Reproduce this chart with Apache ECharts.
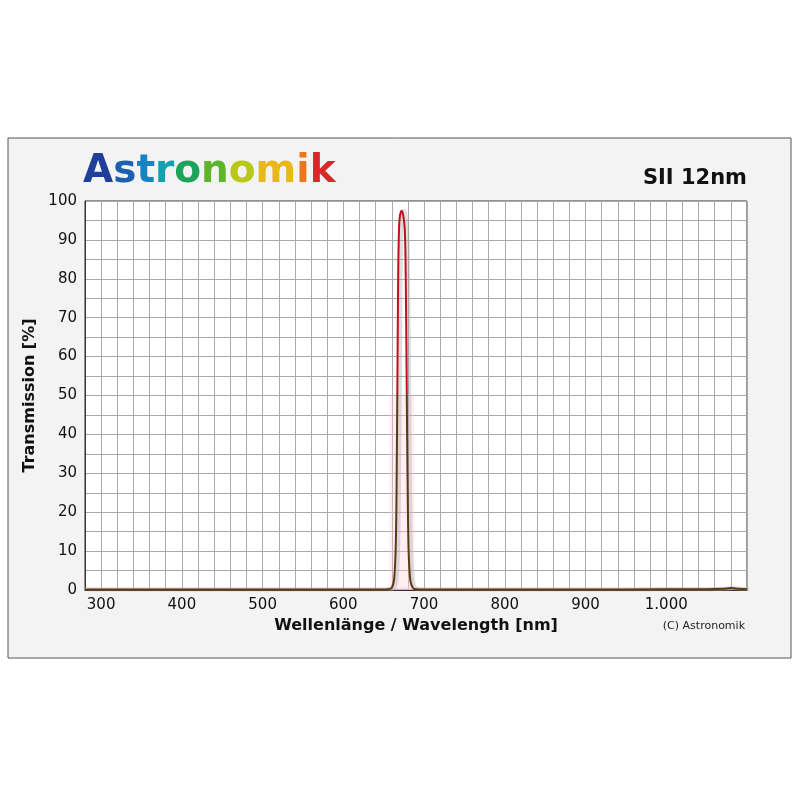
<!DOCTYPE html>
<html>
<head>
<meta charset="utf-8">
<script src="https://cdn.jsdelivr.net/npm/echarts@6/dist/echarts.min.js"></script>
<style>html,body{margin:0;background:#fff}#chart{width:800px;height:800px}</style>
</head>
<body>
<div id="chart"></div>
<script>
// wavelength [nm] and transmission [%]
const wavelengths = [280, 400, 600, 640, 655, 660, 663, 665, 666, 667, 668, 669, 670, 672, 674, 676, 677, 678, 679, 680, 681, 683, 686, 690, 720, 800, 900, 1000, 1050, 1070, 1080, 1090, 1100];
const transmission = [0.1, 0.1, 0.1, 0.1, 0.2, 0.6, 3, 12, 28, 55, 82, 93, 96, 97.5, 96.5, 93, 85, 65, 40, 20, 9, 2.5, 0.6, 0.2, 0.1, 0.1, 0.1, 0.2, 0.2, 0.3, 0.5, 0.3, 0.2];
// pink shaded band behind the peak and along the baseline
const bandPeak = [[657, 50], [688, 50]];
const bandBase = [[280, 0.8], [1100, 0.8]];
const logoLetters = ['A', 's', 't', 'r', 'o', 'n', 'o', 'm', 'i', 'k'];
const logoColors = ['#1f3f9a', '#1d5fb0', '#1584c4', '#14a0b0', '#1ea45a', '#5fb52a', '#b8c814', '#e8b818', '#e8781c', '#d8282a'];

const chart = echarts.init(document.getElementById('chart'));

const data = wavelengths.map((w, i) => [w, transmission[i]]);
const rich = {};
logoLetters.forEach((l, i) => { rich['c' + i] = { fill: logoColors[i], font: '900 39px "DejaVu Sans"' }; });
const logoText = logoLetters.map((l, i) => `{c${i}|${l}}`).join('');

const bandStyle = {
  type: 'line', showSymbol: false, silent: true, z: 1,
  lineStyle: { width: 0, opacity: 0 },
  areaStyle: { color: 'rgba(255,200,215,0.45)', origin: 0 }
};

chart.setOption({
  backgroundColor: '#fff',
  animation: false,
  graphic: [
    { type: 'rect', z: -10, shape: { x: 8, y: 138, width: 783, height: 520 }, style: { fill: '#f3f3f3', stroke: '#555', lineWidth: 1 } },
    { type: 'text', left: 83, top: 152, style: { text: logoText, rich: rich } },
    { type: 'text', right: 53, top: 168, style: { text: 'SII 12nm', fill: '#111', font: 'bold 21px "DejaVu Sans"' } },
    { type: 'text', right: 55, top: 621, style: { text: '(C) Astronomik', fill: '#222', font: '11px "DejaVu Sans"' } }
  ],
  grid: { left: 85, right: 53, top: 201, bottom: 210, backgroundColor: '#fff', show: true, borderColor: '#333', borderWidth: 1 },
  xAxis: {
    type: 'value', min: 280, max: 1100, interval: 20,
    name: 'Wellenlänge / Wavelength [nm]', nameLocation: 'middle', nameGap: 28,
    nameTextStyle: { fontWeight: 'bold', fontSize: 16, color: '#111', fontFamily: 'DejaVu Sans' },
    axisLine: { lineStyle: { color: '#333' } }, axisTick: { show: false },
    axisLabel: { color: '#111', fontSize: 15, fontFamily: 'DejaVu Sans', showMaxLabel: false, showMinLabel: false,
      formatter: v => v % 100 === 0 ? (v >= 1000 ? '1.' + String(v).slice(1) : String(v)) : '' },
    splitLine: { lineStyle: { color: '#aaa', width: 1 } }
  },
  yAxis: {
    type: 'value', min: 0, max: 100, interval: 5,
    name: 'Transmission [%]', nameLocation: 'middle', nameGap: 46,
    nameTextStyle: { fontWeight: 'bold', fontSize: 16, color: '#111', fontFamily: 'DejaVu Sans' },
    axisLine: { show: true, lineStyle: { color: '#333' } }, axisTick: { show: false },
    axisLabel: { color: '#111', fontSize: 15, fontFamily: 'DejaVu Sans', formatter: v => v % 10 === 0 ? String(v) : '' },
    splitLine: { lineStyle: { color: '#aaa', width: 1 } }
  },
  series: [
    Object.assign({ data: bandPeak }, bandStyle),
    Object.assign({ data: bandBase }, bandStyle),
    {
      type: 'line', data: data.map(d => [d[0] + 3, d[1]]), showSymbol: false, smooth: 0.3, z: 2, silent: true,
      lineStyle: { width: 4, color: 'rgba(160,160,160,0.35)' }
    },
    {
      type: 'line', data: data, showSymbol: false, smooth: 0.3, z: 5,
      lineStyle: {
        width: 2,
        color: {
          type: 'linear', global: true, x: 0, y: 201, x2: 0, y2: 590,
          colorStops: [
            { offset: 0, color: '#c0101a' }, { offset: 0.5, color: '#c0101a' },
            { offset: 0.5, color: '#5a3a14' }, { offset: 1, color: '#5a3a14' }
          ]
        }
      }
    }
  ]
});
</script>
</body>
</html>
